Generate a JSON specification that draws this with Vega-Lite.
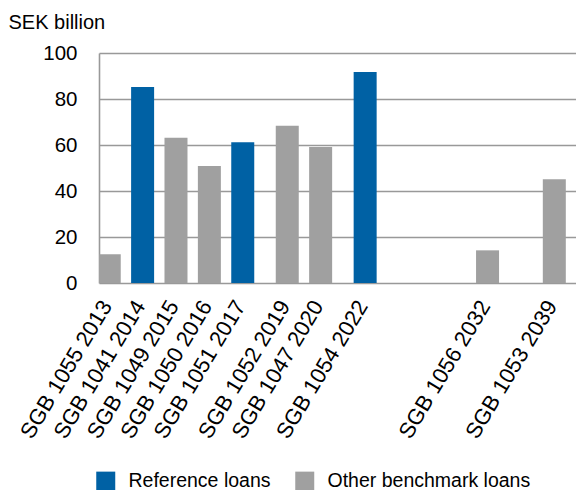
{
  "$schema": "https://vega.github.io/schema/vega-lite/v6.json",
  "autosize": "none",
  "padding": {"left": 99, "top": 53, "right": 0, "bottom": 207},
  "width": 477,
  "height": 230,
  "config": {
    "font": "Liberation Sans",
    "view": {"stroke": null},
    "axis": {"labelColor": "#000", "titleColor": "#000"}
  },
  "data": {
    "values": [
      {"bond": "SGB 1055 2013", "slot": 0, "value": 12.5, "type": "Other benchmark loans"},
      {"bond": "SGB 1041 2014", "slot": 3, "value": 85.2, "type": "Reference loans"},
      {"bond": "SGB 1049 2015", "slot": 6, "value": 63.2, "type": "Other benchmark loans"},
      {"bond": "SGB 1050 2016", "slot": 9, "value": 50.9, "type": "Other benchmark loans"},
      {"bond": "SGB 1051 2017", "slot": 12, "value": 61.2, "type": "Reference loans"},
      {"bond": "SGB 1052 2019", "slot": 16, "value": 68.4, "type": "Other benchmark loans"},
      {"bond": "SGB 1047 2020", "slot": 19, "value": 59.1, "type": "Other benchmark loans"},
      {"bond": "SGB 1054 2022", "slot": 23, "value": 91.7, "type": "Reference loans"},
      {"bond": "SGB 1056 2032", "slot": 34, "value": 14.2, "type": "Other benchmark loans"},
      {"bond": "SGB 1053 2039", "slot": 40, "value": 45.1, "type": "Other benchmark loans"}
    ]
  },
  "mark": {"type": "bar", "width": 23, "clip": true},
  "encoding": {
    "x": {
      "field": "slot",
      "type": "quantitative",
      "scale": {"domain": [-0.47, 41.5], "nice": false, "zero": false},
      "axis": {
        "title": null,
        "grid": false,
        "ticks": false,
        "domain": false,
        "values": [0, 3, 6, 9, 12, 16, 19, 23, 34, 40],
        "labelExpr": "['SGB 1055 2013','SGB 1041 2014','SGB 1049 2015','SGB 1050 2016','SGB 1051 2017','SGB 1052 2019','SGB 1047 2020','SGB 1054 2022','SGB 1056 2032','SGB 1053 2039'][indexof([0,3,6,9,12,16,19,23,34,40], datum.value)]",
        "labelAngle": -59,
        "labelAlign": "right",
        "labelBaseline": "middle",
        "labelPadding": 19,
        "labelOffset": -3,
        "labelFontSize": 22,
        "labelFlush": false,
        "labelOverlap": false,
        "labelBound": false,
        "labelLimit": 0
      }
    },
    "y": {
      "field": "value",
      "type": "quantitative",
      "scale": {"domain": [0, 100], "nice": false},
      "axis": {
        "title": "SEK billion",
        "titleAngle": 0,
        "titleAlign": "left",
        "titleBaseline": "alphabetic",
        "titleX": -91,
        "titleY": -24.5,
        "titleFontSize": 20,
        "titleFontWeight": "normal",
        "values": [0, 20, 40, 60, 80, 100],
        "grid": true,
        "gridColor": "#999999",
        "gridWidth": 1.6,
        "domainColor": "#999999",
        "domainWidth": 1.6,
        "ticks": false,
        "labelPadding": 22,
        "labelFontSize": 20.5
      }
    },
    "color": {
      "field": "type",
      "type": "nominal",
      "scale": {
        "domain": ["Reference loans", "Other benchmark loans"],
        "range": ["#0061A4", "#A0A0A0"]
      },
      "legend": {
        "title": null,
        "orient": "none",
        "direction": "horizontal",
        "legendX": -3,
        "legendY": 418,
        "symbolType": "square",
        "symbolSize": 361,
        "symbolStrokeWidth": 0,
        "symbolOpacity": 1,
        "labelFontSize": 19.5,
        "labelColor": "#000",
        "labelOffset": 13,
        "labelLimit": 0,
        "columnPadding": 24
      }
    }
  }
}
